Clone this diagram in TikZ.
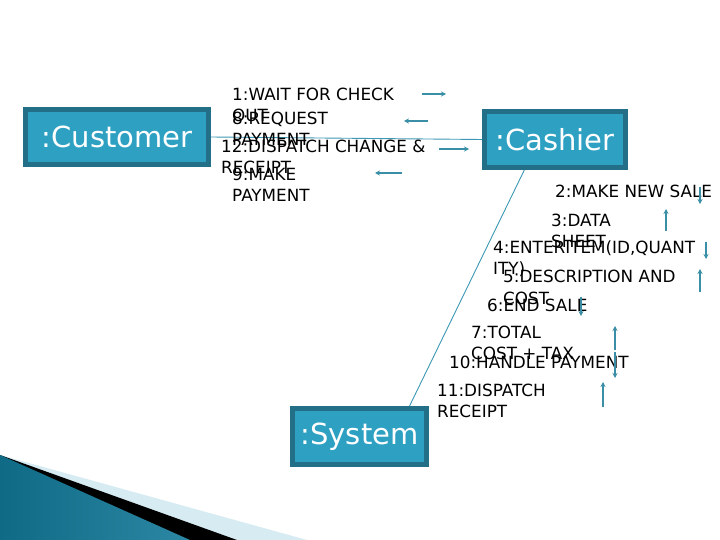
\documentclass[tikz,border=0pt]{standalone}
\usepackage{fontspec}
\setmainfont{DejaVu Sans}
\usetikzlibrary{arrows.meta,calc}
\definecolor{boxfill}{HTML}{2EA1C3}
\definecolor{boxedge}{HTML}{236F88}
\definecolor{arrowcol}{HTML}{3A8EA6}
\definecolor{linecol}{HTML}{3C98B4}
\definecolor{tealdark}{HTML}{0F6A86}
\definecolor{teallight}{HTML}{6CCBE6}
\definecolor{palecol}{HTML}{D6EBF2}
\begin{document}
\begin{tikzpicture}[x=1bp,y=-1bp,
  objbox/.style={draw=boxedge,fill=boxfill,line width=5bp,inner sep=0pt,
    text=white,font=\fontsize{29bp}{34bp}\selectfont},
  msglabel/.style={anchor=base west,inner sep=0pt,align=left,
    font=\fontsize{16.8bp}{21bp}\selectfont},
  msgarrow/.style={draw=arrowcol,line width=1.8bp,
    -{Stealth[length=5bp,width=5bp]}},
  link/.style={draw=linecol,line width=0.9bp}]
\useasboundingbox (0,0) rectangle (720,540);
\fill[white] (0,0) rectangle (720,540);
% bottom-left decoration
\fill[palecol] (0,455) -- (307,540) -- (0,540) -- cycle;
\fill[black] (0,455) -- (237,540) -- (0,540) -- cycle;
\shade[left color=tealdark,middle color=teallight,right color=tealdark!70!teallight]
  (0,455) -- (190,540) -- (0,540) -- cycle;
% objects
\node[objbox,minimum width=183bp,minimum height=55bp] (Customer) at (117,137) {:Customer};
\node[objbox,minimum width=141bp,minimum height=56bp] (Cashier) at (555,139.5) {:Cashier};
\node[objbox,minimum width=134bp,minimum height=56bp] (System) at (359.5,436.5) {:System};
% links
\draw[link] (Customer.east) -- (Cashier.west);
\draw[link] ($(Cashier.south west)!0.29!(Cashier.south east)$) -- ($(System.north west)!0.86!(System.north east)$);
% message labels (anchor = baseline of the last line)
\node[msglabel] (l1) at (232,122) {1:WAIT FOR CHECK\\OUT};
\node[msglabel] (l8) at (232,146) {8:REQUEST\\PAYMENT};
\node[msglabel] (l12) at (221,174) {12:DISPATCH CHANGE \&\\RECEIPT};
\node[msglabel] (l9) at (232,202) {9:MAKE\\PAYMENT};
\node[msglabel] (l2) at (555,198) {2:MAKE NEW SALE};
\node[msglabel] (l3) at (551,248) {3:DATA\\SHEET};
\node[msglabel] (l4) at (493,275) {4:ENTERITEM(ID,QUANT\\ITY)};
\node[msglabel] (l5) at (503,304) {5:DESCRIPTION AND\\COST};
\node[msglabel] (l6) at (487,311) {6:END SALE};
\node[msglabel] (l7) at (471,359) {7:TOTAL\\COST + TAX};
\node[msglabel] (l10) at (449,368) {10:HANDLE PAYMENT};
\node[msglabel] (l11) at (437,417) {11:DISPATCH\\RECEIPT};
% message arrows
\coordinate (a1s) at (422,94);  \coordinate (a1e) at (446,94);
\coordinate (a8s) at (428,121); \coordinate (a8e) at (404,121);
\coordinate (a12s) at (439,149); \coordinate (a12e) at (469,149);
\coordinate (a9s) at (402,173); \coordinate (a9e) at (375,173);
\coordinate (a2s) at (700,187); \coordinate (a2e) at (700,204);
\coordinate (a3s) at (666,231); \coordinate (a3e) at (666,209);
\coordinate (a4s) at (706,242); \coordinate (a4e) at (706,259);
\coordinate (a5s) at (700,292); \coordinate (a5e) at (700,269);
\coordinate (a6s) at (581,297); \coordinate (a6e) at (581,316);
\coordinate (a7s) at (615,350); \coordinate (a7e) at (615,326);
\coordinate (a10s) at (615,352); \coordinate (a10e) at (615,378);
\coordinate (a11s) at (603,407); \coordinate (a11e) at (603,382);
\foreach \m in {1,8,12,9,2,3,4,5,6,7,10,11}
  \draw[msgarrow] (a\m s) -- (a\m e);
\end{tikzpicture}
\end{document}
